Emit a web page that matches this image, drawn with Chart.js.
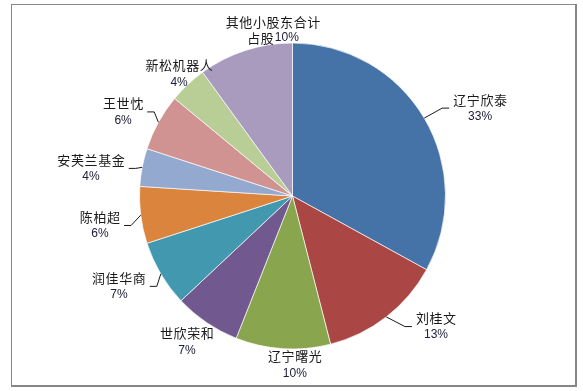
<!DOCTYPE html>
<html>
<head>
<meta charset="utf-8">
<script src="https://cdn.jsdelivr.net/npm/chart.js@4/dist/chart.umd.min.js"></script>
<style>
  html, body { margin: 0; padding: 0; background: #ffffff; }
  #wrap { width: 583px; height: 391px; position: relative; }
</style>
</head>
<body>
<div id="wrap"><canvas id="c" width="583" height="391"></canvas></div>
<script>
// Shareholders and their stakes (%)
const holders = ['辽宁欣泰', '刘桂文', '辽宁曙光', '世欣荣和', '润佳华商', '陈柏超', '安芙兰基金', '王世忱', '新松机器人', '其他小股东合计占股'];
const stakes = [33, 13, 10, 7, 7, 6, 4, 6, 4, 10];
const sliceColors = ['#4572A7', '#AA4643', '#89A54E', '#71588F', '#4198AF', '#DB843D', '#93A9CF', '#D19392', '#B9CD96', '#A99BBD'];

// Where each label block sits around the pie:
// angle in degrees clockwise from 12 o'clock, distance in pie radii,
// whether a leader line is drawn, and where a long name wraps.
const labelLayout = [
  { angle: 64.9,  dist: 1.354, leader: true },
  { angle: 132.3, dist: 1.268, leader: true },
  { angle: 179.2, dist: 1.105, leader: false },
  { angle: 215.9, dist: 1.177, leader: false },
  { angle: 242.5, dist: 1.279, leader: true },
  { angle: 261.3, dist: 1.273, leader: true },
  { angle: 277.8, dist: 1.329, leader: true },
  { angle: 296.4, dist: 1.236, leader: true },
  { angle: 317.1, dist: 1.089, leader: false },
  { angle: 353.3, dist: 1.092, leader: false, wrapAt: 7 }
];

const CJK_FONT = '13px "Noto Sans CJK SC", sans-serif';
const PCT_FONT = '12px "Liberation Sans", Arial, sans-serif';
const CJK_GAP = 0.6;
const NAME_COLOR = '#1a1a1a';
const PCT_COLOR = '#20203a';

function spacedWidth(ctx, text) {
  ctx.font = CJK_FONT;
  let w = 0;
  for (const ch of text) w += ctx.measureText(ch).width + CJK_GAP;
  return text.length ? w - CJK_GAP : 0;
}
function drawSpaced(ctx, text, x, y) {
  ctx.font = CJK_FONT;
  ctx.fillStyle = NAME_COLOR;
  for (const ch of text) {
    ctx.fillText(ch, x, y);
    x += ctx.measureText(ch).width + CJK_GAP;
  }
  return x;
}
function pctWidth(ctx, text) {
  ctx.font = PCT_FONT;
  return ctx.measureText(text).width;
}
function drawPct(ctx, text, x, y) {
  ctx.font = PCT_FONT;
  ctx.fillStyle = PCT_COLOR;
  ctx.fillText(text, x, y);
}

const frame = {
  id: 'frame',
  afterDraw(chart) {
    const ctx = chart.ctx;
    ctx.save();
    ctx.fillStyle = '#868686';
    ctx.fillRect(11, 4, 565, 1);
    ctx.fillRect(11, 4, 1, 382);
    ctx.fillRect(575, 4, 2, 383);
    ctx.fillRect(11, 385, 566, 2);
    ctx.restore();
  }
};

const sliceLabels = {
  id: 'sliceLabels',
  afterDatasetsDraw(chart) {
    const ctx = chart.ctx;
    const meta = chart.getDatasetMeta(0);
    const total = stakes.reduce((a, b) => a + b, 0);
    ctx.save();
    ctx.textAlign = 'left';
    ctx.textBaseline = 'middle';
    meta.data.forEach((arc, i) => {
      const p = arc.getProps(['x', 'y', 'startAngle', 'endAngle', 'outerRadius'], true);
      const lay = labelLayout[i];
      const pct = Math.round(stakes[i] / total * 100) + '%';
      const a = (lay.angle - 90) * Math.PI / 180;
      const cx = p.x + Math.cos(a) * lay.dist * p.outerRadius;
      const cy = p.y + Math.sin(a) * lay.dist * p.outerRadius;
      const name = holders[i];
      let blockW;

      if (lay.wrapAt) {
        const l1 = name.slice(0, lay.wrapAt);
        const l2 = name.slice(lay.wrapAt);
        const w1 = spacedWidth(ctx, l1);
        const w2a = spacedWidth(ctx, l2);
        const w2b = pctWidth(ctx, pct);
        const w2 = w2a + 1 + w2b;
        drawSpaced(ctx, l1, cx - w1 / 2, cy - 8);
        const nx = drawSpaced(ctx, l2, cx - w2 / 2, cy + 8);
        drawPct(ctx, pct, nx + 1 - CJK_GAP, cy + 8);
        blockW = Math.max(w1, w2);
      } else {
        const wn = spacedWidth(ctx, name);
        const wp = pctWidth(ctx, pct);
        drawSpaced(ctx, name, cx - wn / 2, cy - 8.5);
        drawPct(ctx, pct, cx - wp / 2, cy + 8.5);
        blockW = Math.max(wn, wp);
      }

      if (lay.leader) {
        const mid = (p.startAngle + p.endAngle) / 2;
        const sx = p.x + Math.cos(mid) * p.outerRadius;
        const sy = p.y + Math.sin(mid) * p.outerRadius;
        const right = cx > p.x;
        const edge = right ? cx - blockW / 2 : cx + blockW / 2;
        const dir = right ? -1 : 1;
        ctx.beginPath();
        ctx.moveTo(sx, sy);
        ctx.lineTo(edge + dir * 11, cy);
        ctx.lineTo(edge + dir * 4, cy);
        ctx.strokeStyle = '#1a1a1a';
        ctx.lineWidth = 1;
        ctx.stroke();
      }
    });
    ctx.restore();
  }
};

new Chart(document.getElementById('c'), {
  type: 'pie',
  data: {
    labels: holders,
    datasets: [{
      data: stakes,
      backgroundColor: sliceColors,
      borderColor: 'rgba(255,255,255,0.85)',
      borderWidth: 0.8,
      radius: 153
    }]
  },
  options: {
    responsive: false,
    devicePixelRatio: 1,
    animation: false,
    radius: 153,
    layout: { padding: { top: 43, bottom: 42, left: 2, right: 0 } },
    plugins: {
      legend: { display: false },
      tooltip: { enabled: false }
    }
  },
  plugins: [sliceLabels, frame]
});
</script>
</body>
</html>
